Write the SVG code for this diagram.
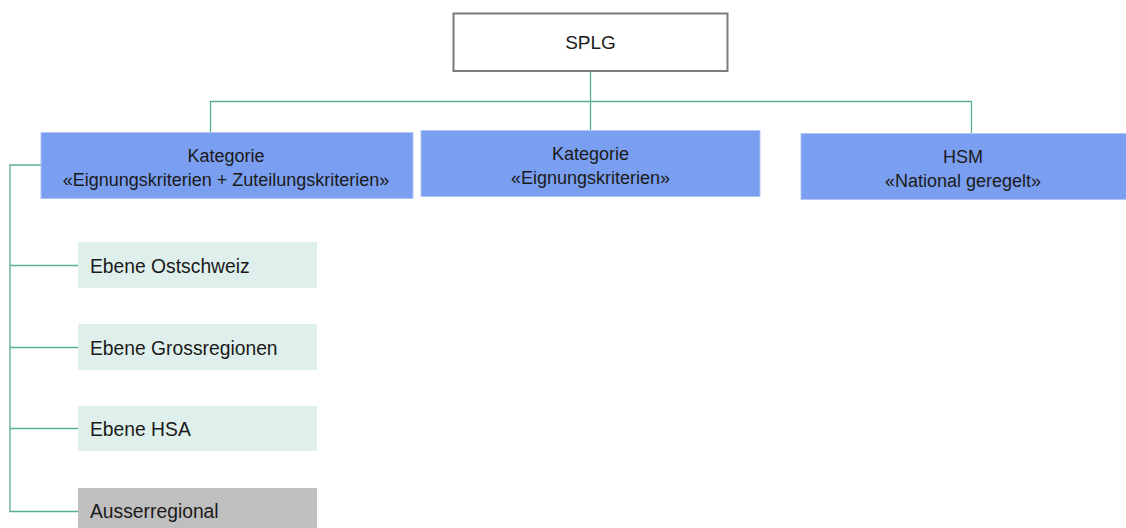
<svg xmlns="http://www.w3.org/2000/svg" width="1126" height="528" viewBox="0 0 1126 528">
<style>
text{font-family:"Liberation Sans",Arial,sans-serif;fill:#1a1a1a}
.c{text-anchor:middle;font-size:18px}
.l{font-size:19.3px}
.cat{fill:#7a9ff0;stroke:#b3c6f5;stroke-width:1}
.sub{fill:#dff0ec}
.gray{fill:#bfbfbf}
.conn{fill:none;stroke:#5aae96;stroke-width:1.3}
</style>
<rect width="1126" height="528" fill="#ffffff"/>
<g id="connectors" class="conn">
<path d="M590.5 71V131"/>
<path d="M210.5 132V101.5H971.5V134"/>
<path d="M41 165H10V511.5H78"/>
<path d="M10 265.5H78"/>
<path d="M10 347.5H78"/>
<path d="M10 428.5H78"/>
</g>
<g id="splg">
<rect x="453.5" y="13.5" width="274" height="57.5" fill="#ffffff" stroke="#7a7a7a" stroke-width="2"/>
<text class="c" x="590.5" y="49" style="font-size:19px">SPLG</text>
</g>
<g id="cat1">
<rect class="cat" x="41" y="132.5" width="372" height="66"/>
<text class="c" x="226" y="162">Kategorie</text>
<text class="c" x="226" y="186">«Eignungskriterien + Zuteilungskriterien»</text>
</g>
<g id="cat2">
<rect class="cat" x="421" y="130.5" width="339" height="66"/>
<text class="c" x="590.5" y="160">Kategorie</text>
<text class="c" x="590.5" y="184">«Eignungskriterien»</text>
</g>
<g id="hsm">
<rect class="cat" x="801" y="133.5" width="330" height="66"/>
<text class="c" x="963" y="163">HSM</text>
<text class="c" x="963" y="187">«National geregelt»</text>
</g>
<g id="ostschweiz">
<rect class="sub" x="78" y="242" width="239" height="46"/>
<text class="l" x="90" y="273">Ebene Ostschweiz</text>
</g>
<g id="grossregionen">
<rect class="sub" x="78" y="324" width="239" height="46"/>
<text class="l" x="90" y="355">Ebene Grossregionen</text>
</g>
<g id="hsa">
<rect class="sub" x="78" y="406" width="239" height="45"/>
<text class="l" x="90" y="436">Ebene HSA</text>
</g>
<g id="ausserregional">
<rect class="gray" x="78" y="488" width="239" height="45"/>
<text class="l" x="90" y="518">Ausserregional</text>
</g>
</svg>
